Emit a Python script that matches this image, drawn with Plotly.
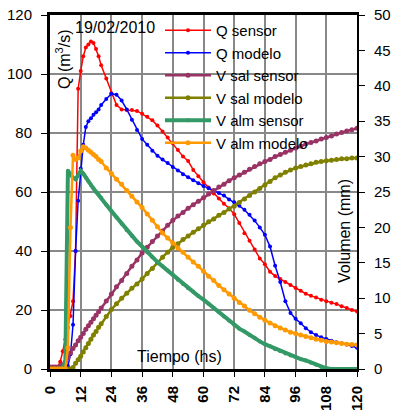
import plotly.graph_objects as go

t_hs = list(range(0, 21)) + list(range(22, 121, 2))

q_sensor = [0, 0, 0, 0.5, 2.5, 6, 10, 14, 18, 23, 40, 95, 101, 106, 109, 110, 111, 110.5, 108.5, 106, 103,
            98.5, 93.5, 89.5, 88, 87.8, 87.8, 87.5, 86.5, 85.5, 84.3,
            82.5, 80.5, 78.5, 76.5, 74.2, 72, 70.5, 67.5, 65.3, 63.3,
            61.5, 59.5, 57.8, 56, 54.5, 52.5, 49.5, 46, 43.5, 40.5,
            37.5, 35.5, 33, 31.5, 30.5, 29.5, 28.5, 27.5, 26.5, 25.5,
            24.8, 24.2, 23.5, 23, 22.5, 22, 21.3, 20.7, 20, 19.5]

q_modelo = [0, 0, 0, 0, 0, 0, 0, 1, 5, 15, 40, 57, 68, 76, 82, 84, 85, 86.2, 87, 88, 89.5,
            91.5, 93.3, 93, 91, 88, 84.5, 81, 78, 76, 74,
            72.3, 71, 69.8, 68.5, 67.3, 66, 65, 64, 63, 62,
            61.3, 60.5, 59.7, 58.8, 57.5, 56.5, 55.3, 54, 52.3, 50.3,
            48, 45.5, 41.5, 35, 29.5, 23, 19, 17, 15.5, 13.8,
            12.5, 11.5, 10.8, 10.2, 9.6, 9.1, 8.7, 8.3, 7.8, 7.2]

v_sal_sensor = [0.3, 0.3, 0.3, 0.3, 0.4, 0.6, 1.0, 1.6, 2.3, 2.9, 3.4, 4.0, 4.5, 5.0, 5.6, 6.1, 6.6, 7.1, 7.6, 8.1, 8.6,
                9.6, 10.6, 11.6, 12.5, 13.5, 14.5, 15.4, 16.4, 17.2, 18.0,
                18.8, 19.5, 20.3, 21.0, 21.6, 22.1, 22.7, 23.2, 23.7, 24.2,
                24.7, 25.2, 25.7, 26.1, 26.6, 27.0, 27.4, 27.8, 28.2, 28.6,
                29.0, 29.3, 29.6, 30.0, 30.3, 30.6, 30.9, 31.2, 31.5, 31.8,
                32.0, 32.2, 32.5, 32.7, 32.9, 33.2, 33.4, 33.6, 33.8, 34.0]

v_sal_modelo = [0, 0, 0, 0, 0, 0, 0, 0, 0, 0.2, 0.8, 1.3, 1.8, 2.4, 3.0, 3.6, 4.2, 4.8, 5.3, 5.9, 6.4,
                7.4, 8.4, 9.2, 10.0, 10.7, 11.4, 12.0, 12.7, 13.5, 14.2,
                15.0, 15.8, 16.5, 17.2, 17.7, 18.3, 18.8, 19.3, 19.8, 20.3,
                20.8, 21.2, 21.7, 22.1, 22.6, 23.0, 23.5, 24.0, 24.5, 25.0,
                25.5, 26.0, 26.5, 27.0, 27.4, 27.8, 28.1, 28.4, 28.6, 28.8,
                29.0, 29.2, 29.3, 29.4, 29.5, 29.6, 29.7, 29.7, 29.8, 29.8]

v_alm_sensor = [0, 0, 0, 0, 0, 0.2, 1.0, 28, 27.5, 27, 26.8, 27.3, 28, 27.6, 27, 26.5, 26, 25.5, 25, 24.6, 24.2,
                23.2, 22.3, 21.4, 20.5, 19.6, 18.8, 18.0, 17.3, 16.5, 15.8,
                15.1, 14.5, 13.9, 13.3, 12.6, 12.0, 11.4, 10.9, 10.3, 9.8,
                9.2, 8.6, 8.0, 7.4, 6.8, 6.2, 5.7, 5.3, 4.8, 4.4,
                3.9, 3.5, 3.2, 2.8, 2.5, 2.2, 1.9, 1.7, 1.4, 1.2,
                0.9, 0.6, 0.3, 0.1, 0, 0, 0, 0, 0, 0]

v_alm_modelo = [0, 0, 0, 0, 0, 0, 0, 3, 20, 30.2, 29.6, 29.8, 30.8, 31.4, 31.2, 30.9, 30.6, 30.3, 30.0, 29.6, 29.3,
                28.4, 27.6, 26.8, 26.1, 25.2, 24.4, 23.6, 22.8, 21.9, 21.0,
                20.1, 19.2, 18.5, 17.8, 17.1, 16.5, 15.8, 15.1, 14.5, 13.8,
                13.1, 12.5, 11.8, 11.2, 10.6, 10.0, 9.4, 8.9, 8.3, 7.8,
                7.3, 6.9, 6.5, 6.1, 5.8, 5.5, 5.2, 5.0, 4.8, 4.6,
                4.4, 4.2, 4.05, 3.9, 3.8, 3.7, 3.6, 3.5, 3.45, 3.4]

x_ticks = list(range(0, 121, 12))

FONT = "Liberation Sans, Arial, sans-serif"

fig = go.Figure()

def add(name, y, color, axis, lw, ms):
    fig.add_trace(go.Scatter(
        x=t_hs, y=y, name=name, yaxis=axis, mode="lines+markers",
        line=dict(color=color, width=lw),
        marker=dict(color=color, size=ms, symbol="circle"),
    ))

add("Q sensor", q_sensor, "#FF0000", "y", 1.5, 4)
add("Q modelo", q_modelo, "#0000FF", "y", 1.5, 4)
add("V sal sensor", v_sal_sensor, "#993366", "y2", 2.5, 5)
add("V sal modelo", v_sal_modelo, "#808000", "y2", 2.5, 5)
add("V alm sensor", v_alm_sensor, "#339966", "y2", 4, 4)
add("V alm modelo", v_alm_modelo, "#FF9900", "y2", 2.5, 5)

L, R, T, B = 50, 41, 15, 42
PW, PH = 398 - L - R, 411 - T - B

def px(xp):
    return (xp - L) / PW

def py(yp):
    return (411 - B - yp) / PH

def ann(text, x, y, angle=0, size=16):
    return dict(text=text, x=px(x), y=py(y), xref="paper", yref="paper",
                xanchor="center", yanchor="middle", showarrow=False,
                textangle=angle, font=dict(size=size, family=FONT))

fig.update_layout(
    width=398, height=411,
    margin=dict(l=L, r=R, t=T, b=B, pad=0, autoexpand=False),
    paper_bgcolor="white", plot_bgcolor="white",
    font=dict(family=FONT, color="black", size=15),
    showlegend=True,
    legend=dict(x=px(160), y=py(14), xanchor="left", yanchor="top",
                bgcolor="rgba(0,0,0,0)", font=dict(size=15, family=FONT),
                itemwidth=46, tracegroupgap=0),
    xaxis=dict(range=[0, 120], tickvals=x_ticks, tickangle=-90, automargin=False,
               showgrid=True, gridcolor="#888888", gridwidth=1.5,
               showline=True, linecolor="black", linewidth=3, mirror=True,
               ticks="outside", ticklen=5, tickcolor="black", tickwidth=1,
               ticklabelstandoff=3,
               tickfont=dict(size=15, family=FONT, weight="bold"), zeroline=False),
    yaxis=dict(range=[0, 120], dtick=20, automargin=False,
               showgrid=True, gridcolor="#888888", gridwidth=1.5,
               showline=True, linecolor="black", linewidth=3,
               ticks="outside", ticklen=6, tickcolor="black",
               ticklabelstandoff=6,
               tickfont=dict(size=15, family=FONT), zeroline=False),
    yaxis2=dict(range=[0, 50], dtick=5, overlaying="y", side="right", automargin=False,
                showgrid=False, showline=True, linecolor="black", linewidth=2,
                ticks="outside", ticklen=6, tickcolor="black",
                ticklabelstandoff=6,
                tickfont=dict(size=15, family=FONT), zeroline=False),
    shapes=[dict(type="rect", xref="paper", yref="paper",
                 x0=px(144), x1=1, y0=py(147), y1=1,
                 fillcolor="white", line=dict(width=0), layer="between")],
    annotations=[
        ann("19/02/2010", 115, 27),
        ann("Q (m<sup>3</sup>/s)", 63, 59, -90),
        ann("Tiempo (hs)", 179, 356),
        ann("Volumen (mm)", 345, 231, -90),
    ],
)

fig.write_html("out.html", config={"displayModeBar": False},
               post_script="document.body.style.margin='0px';")
